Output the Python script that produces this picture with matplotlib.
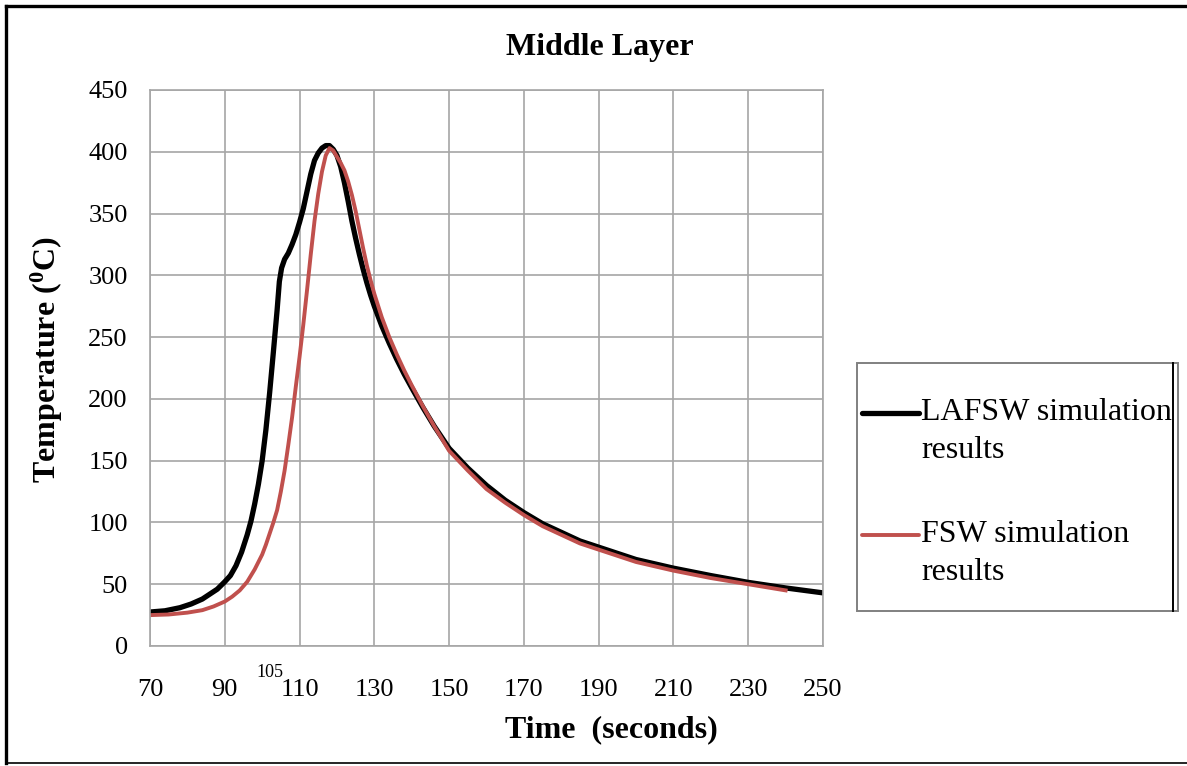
import matplotlib
matplotlib.use("Agg")
import matplotlib.pyplot as plt
from matplotlib.lines import Line2D
from matplotlib.patches import Rectangle

plt.rcParams["font.family"] = ["Liberation Serif", "DejaVu Serif"]
plt.rcParams["mathtext.fontset"] = "custom"
plt.rcParams["mathtext.rm"] = "Liberation Serif"

# LAFSW simulation (black)
lafsw_time = [70, 74, 78, 81, 84, 86, 88, 90, 91.5, 93, 94.5, 96, 97, 98, 99, 100,
              101, 102, 103, 104, 104.6, 105.2, 106, 107, 108, 109, 110, 111, 112,
              113, 114, 115, 116, 117, 118, 119, 120, 121, 122, 123, 124, 125, 126,
              127, 128, 129, 130, 132, 134, 136, 138, 140, 143, 146, 150, 155, 160,
              165, 170, 175, 180, 185, 190, 200, 210, 220, 230, 240, 250]
lafsw_temp = [27.5, 28.5, 31, 34, 38, 42, 46, 52, 57, 65, 76, 90, 101, 115, 131, 150,
              175, 205, 238, 272, 295, 306, 313, 318, 325, 333, 343, 354, 368,
              382, 393, 399, 403, 405, 405, 402, 397, 388, 375, 360, 344, 330, 317,
              305, 294, 284, 275, 259, 245, 232, 220, 209, 193, 178, 160, 144, 130,
              118, 108, 99, 92, 85, 80, 70, 63, 57, 51.5, 47, 43]

# FSW simulation (red)
fsw_time = [70, 75, 80, 84, 87, 90, 92, 94, 96, 98, 100, 101, 102, 103, 104, 105,
            106, 107, 108, 109, 110, 111, 112, 113, 114, 115, 116, 117, 118, 119,
            120, 121, 122, 123, 124, 125, 126, 127, 128, 129, 130, 132, 134, 136,
            138, 140, 143, 146, 150, 155, 160, 165, 170, 175, 180, 185, 190, 200,
            210, 220, 230, 240]
fsw_temp = [25, 25.5, 27, 29, 32, 36, 40, 45, 52, 62, 74, 82, 91, 100, 110, 125,
            142, 163, 185, 210, 234, 260, 288, 317, 344, 366, 384, 397, 403, 401,
            396, 391, 385, 376, 365, 352, 337, 322, 308, 296, 285, 266, 250, 236,
            223, 211, 194, 178, 158, 142, 127, 116, 106, 97, 90, 83, 78, 68,
            61, 55, 50, 45]

x_ticks = [70, 90, 110, 130, 150, 170, 190, 210, 230, 250]
y_ticks = [0, 50, 100, 150, 200, 250, 300, 350, 400, 450]
labels = ["LAFSW simulation\nresults", "FSW simulation\nresults"]
colors = ["black", "#c0504d"]

W, H = 1187, 766
fig = plt.figure(figsize=(W / 100, H / 100), dpi=100)
ax = fig.add_axes([150 / W, 1 - 646 / H, 673 / W, 556 / H])

grid_col = "#a6a6a6"
ax.plot(lafsw_time, lafsw_temp, color=colors[0], lw=3.8, solid_joinstyle="round")
ax.plot(fsw_time, fsw_temp, color=colors[1], lw=2.8, solid_joinstyle="round")

ax.set_xlim(70, 250)
ax.set_ylim(0, 450)
ax.set_xticks(x_ticks)
ax.set_yticks(y_ticks)
ax.grid(True, color=grid_col, lw=1.2)
ax.set_axisbelow(True)
for sp in ax.spines.values():
    sp.set_color(grid_col)
    sp.set_linewidth(1.2)
ax.tick_params(length=0, labelsize=19, pad=16)
ax.tick_params(axis="x", pad=24)

# small extra label at 105
ax.annotate("105", xy=(105.6, 0), xycoords="data", xytext=(0, -19),
            textcoords="offset points", ha="right", va="center", fontsize=13)

ax.set_xlabel("Time  (seconds)", fontsize=23, fontweight="bold")
ax.xaxis.set_label_coords(0.685, -0.151)
ax.xaxis.label.set_va("center")
ax.set_ylabel(r"Temperature ($\mathregular{^{0}}$C)", fontsize=23,
              fontweight="bold")
ax.yaxis.set_label_coords(-0.153, 0.514)
ax.yaxis.label.set_va("center")

fig.text(600 / W, 1 - 48 / H, "Middle Layer", ha="center", va="center",
         fontsize=23, fontweight="bold")

# legend box
fig.add_artist(Rectangle((857 / W, 1 - 611 / H), (1178 - 857) / W, (611 - 363) / H,
                         transform=fig.transFigure, fill=False,
                         edgecolor="#808080", lw=1.4))
fig.add_artist(Line2D([1173 / W, 1173 / W], [1 - 363 / H, 1 - 611 / H],
                      transform=fig.transFigure, color="black", lw=1.4))
for y_px, lab, col, lw in zip([413, 535], labels, colors, [3.8, 2.8]):
    fig.add_artist(Line2D([862 / W, 919 / W], [1 - y_px / H, 1 - y_px / H],
                          transform=fig.transFigure, color=col, lw=lw,
                          solid_capstyle="round"))
    first, second = lab.split("\n")
    fig.text(921 / W, 1 - y_px / H, first, ha="left", va="center", fontsize=23)
    fig.text(921 / W, 1 - (y_px + 37) / H, second, ha="left", va="center",
             fontsize=23)

# outer border
fig.add_artist(Line2D([6 / W, 1.0], [1 - 6 / H, 1 - 6 / H],
                      transform=fig.transFigure, color="black", lw=2.4))
fig.add_artist(Line2D([6 / W, 6 / W], [1 - 6 / H, 1 - 763 / H],
                      transform=fig.transFigure, color="black", lw=2.4))
fig.add_artist(Line2D([6 / W, 1.0], [1 - 763 / H, 1 - 763 / H],
                      transform=fig.transFigure, color="black", lw=1.2))

fig.savefig("out.png", dpi=100)
